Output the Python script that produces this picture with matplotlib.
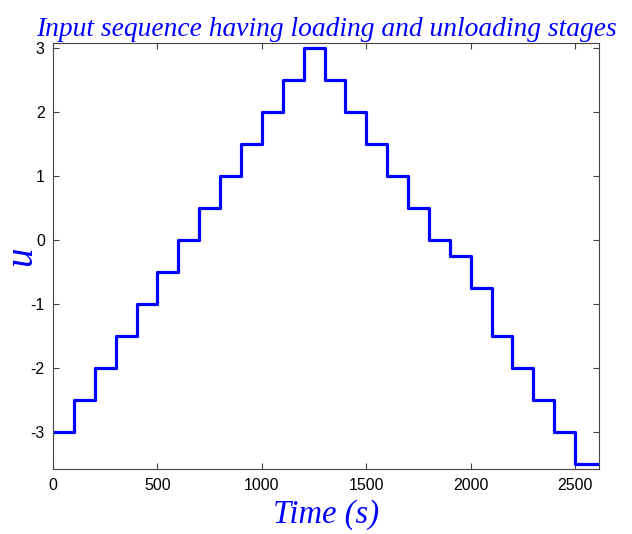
import numpy as np
import matplotlib
matplotlib.use("Agg")
import matplotlib.pyplot as plt

plt.rcParams['axes.unicode_minus'] = False

# step input: start time of each stage and its level
t_start = [0, 100, 200, 300, 400, 500, 600, 700, 800, 900, 1000, 1100, 1200,
           1300, 1400, 1500, 1600, 1700, 1800, 1900, 2000, 2100, 2200, 2300,
           2400, 2500]
u_level = [-3, -2.5, -2, -1.5, -1, -0.5, 0, 0.5, 1, 1.5, 2, 2.5, 3,
           2.5, 2, 1.5, 1, 0.5, 0, -0.25, -0.75, -1.5, -2, -2.5,
           -3, -3.5]
t_end = 2615

xticks = [0, 500, 1000, 1500, 2000, 2500]
yticks = [-3, -2, -1, 0, 1, 2, 3]

t = t_start + [t_end]
u = u_level + [u_level[-1]]

fig = plt.figure(figsize=(6.32, 5.34), dpi=100)
ax = fig.add_axes([0.084, 0.121, 0.864, 0.799])

ax.step(t, u, where='post', color='#0000ff', linewidth=2.3)

ax.set_xlim(0, t_end)
ax.set_ylim(-3.58, 3.09)
ax.set_xticks(xticks)
ax.set_yticks(yticks)
ax.tick_params(direction='in', top=True, right=True, length=4, width=0.8,
               color='#444444', labelsize=11.5, pad=6)
for lbl in ax.get_xticklabels() + ax.get_yticklabels():
    lbl.set_fontfamily('Liberation Sans')
for s in ax.spines.values():
    s.set_color('#444444')
    s.set_linewidth(0.8)

serif = dict(family='Liberation Serif', style='italic', color='#0000ff')
ax.set_title("Input sequence having loading and unloading stages",
             fontsize=19.8, pad=5, **serif)
ax.set_xlabel("Time (s)", fontsize=23.5, labelpad=5, **serif)
ax.set_ylabel("u", fontsize=28, **serif)
ax.yaxis.label.set_va('center')
ax.yaxis.set_label_coords(-0.058, 0.5)

fig.savefig("out.png", dpi=100)
